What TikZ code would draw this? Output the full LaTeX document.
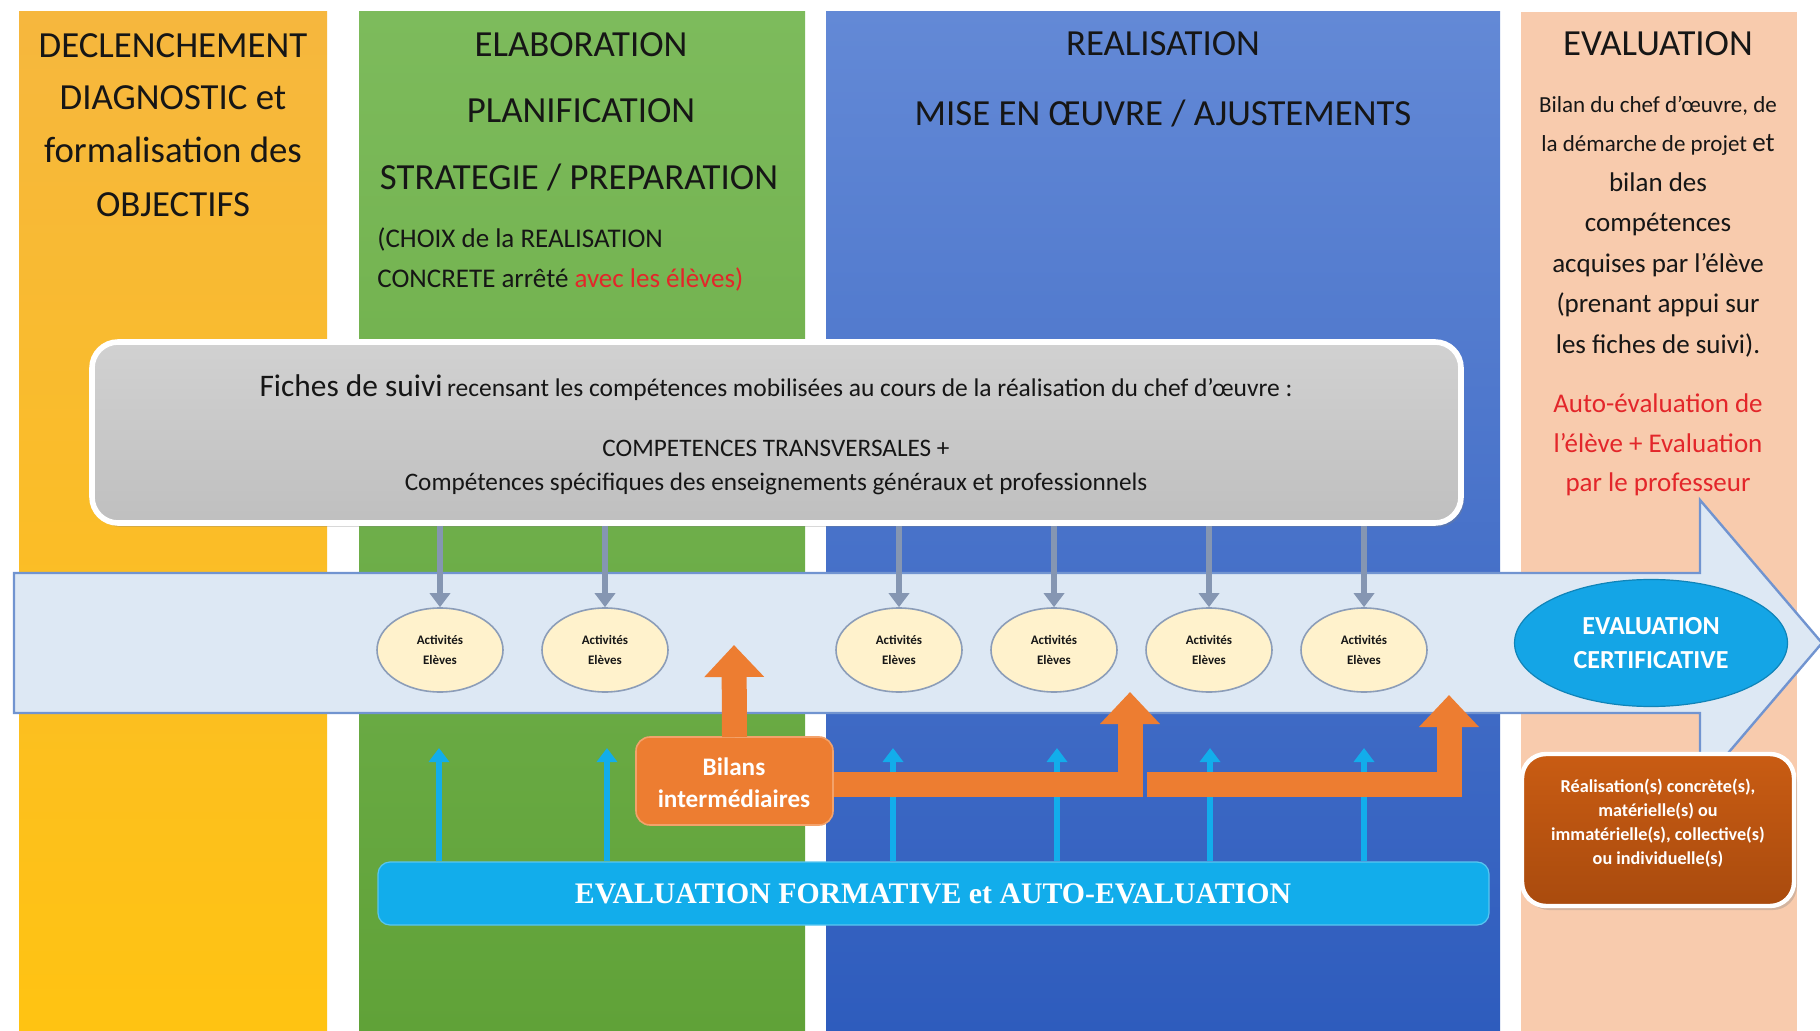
\documentclass[tikz,border=0pt]{standalone}
\usepackage{fontspec}
\setmainfont{Carlito}
\newfontfamily\barfont{Liberation Serif}
\usetikzlibrary{arrows.meta,shapes.geometric,fit,shadows}
\definecolor{ytop}{HTML}{F6B73E}
\definecolor{ybot}{HTML}{FFC312}
\definecolor{gtop}{HTML}{7DBB5C}
\definecolor{gbot}{HTML}{60A238}
\definecolor{btop}{HTML}{6389D6}
\definecolor{bbot}{HTML}{2E5CBD}
\definecolor{peach}{HTML}{F8CBAD}
\definecolor{txt}{HTML}{161616}
\definecolor{redt}{HTML}{E3262A}
\definecolor{arrfill}{HTML}{DDE8F4}
\definecolor{arredge}{HTML}{7194D0}
\definecolor{cream}{HTML}{FFF2CC}
\definecolor{ellline}{HTML}{8C9DB8}
\definecolor{cyanc}{HTML}{12ADEB}
\definecolor{orng}{HTML}{ED7D31}
\definecolor{orngl}{HTML}{F3A26B}
\definecolor{dtop}{HTML}{C95C13}
\definecolor{dbot}{HTML}{A94B0E}
\definecolor{gedge}{HTML}{8596B2}
\definecolor{certc}{HTML}{14A5E6}
\begin{document}
\begin{tikzpicture}[x=0.5pt,y=-0.5pt,
  hd/.style={anchor=base, inner sep=0, text=txt, font=\fontsize{18.4}{22}\selectfont},
  sm/.style={anchor=base, inner sep=0, text=txt, font=\fontsize{13.5}{16}\selectfont},
  xs/.style={anchor=base, inner sep=0, text=txt, font=\fontsize{11.5}{14}\selectfont},
  wt/.style={anchor=base, inner sep=0, text=white, font=\fontsize{#1}{14}\selectfont\bfseries},
  act/.style={ellipse, draw=ellline, line width=0.8pt, fill=cream, minimum width=63pt, minimum height=42pt, inner sep=0, align=center, font=\fontsize{6.5}{10}\selectfont\bfseries, text=txt},
  downarr/.style={draw=gedge, line width=3pt, -{Triangle[length=7pt,width=10pt]}},
  uparr/.style={draw=cyanc, line width=3pt, -{Triangle[length=7pt,width=10pt]}},
  obig/.style={draw=orng, line width=12.5pt, line join=miter, -{Triangle[length=16pt,width=29pt]}},
]
\useasboundingbox (0,0) rectangle (1820,1031);
\fill[white] (0,0) rectangle (1820,1031);
% columns
\shade[top color=ytop, bottom color=ybot] (19,12) rectangle (327,1031);
\shade[top color=gtop, bottom color=gbot] (359,12) rectangle (805,1031);
\shade[top color=btop, bottom color=bbot] (826,12) rectangle (1500,1031);
\fill[peach] (1521,12) rectangle (1797,1031);
% column texts
\node[hd] (y1) at (173,58) {DECLENCHEMENT};
\node[hd] (y2) at (173,110) {DIAGNOSTIC et};
\node[hd] (y3) at (173,163) {formalisation des};
\node[hd] (y4) at (173,217) {OBJECTIFS};
\node[hd] (g1) at (581,57) {ELABORATION};
\node[hd] (g2) at (581,123) {PLANIFICATION};
\node[hd] (g3) at (579,190) {STRATEGIE / PREPARATION};
\node[sm, anchor=base west] (g4) at (377,248) {(CHOIX de la REALISATION};
\node[sm, anchor=base west] (g5) at (377,288) {CONCRETE arrêté \textcolor{redt}{avec les élèves)}};
\node[hd] (b1) at (1163,56) {REALISATION};
\node[hd] (b2) at (1163,126) {MISE EN ŒUVRE / AJUSTEMENTS};
\node[hd] (p0) at (1658,56) {EVALUATION};
\node[xs] (p1) at (1658,113) {Bilan du chef d’œuvre, de};
\node[xs] (p2) at (1658,152) {la démarche de projet {\fontsize{13.5}{16}\selectfont et}};
\node[sm] (p3) at (1658,192) {bilan des};
\node[sm] (p4) at (1658,232) {compétences};
\node[sm] (p5) at (1658,273) {acquises par l’élève};
\node[sm] (p6) at (1658,313) {(prenant appui sur};
\node[sm] (p7) at (1658,354) {les fiches de suivi).};
\node[sm, text=redt] (p8) at (1658,413) {Auto-évaluation de};
\node[sm, text=redt] (p9) at (1658,453) {l’élève + Evaluation};
\node[sm, text=redt] (p10) at (1658,492) {par le professeur};
% grey box
\coordinate (gb1) at (92,342);
\coordinate (gb2) at (1461,523);
\node[fit=(gb1)(gb2), inner sep=0, rounded corners=13pt, draw=white, line width=2.8pt,
  top color=gray!36, bottom color=gray!50,
  drop shadow={opacity=0.3,shadow xshift=1.5pt,shadow yshift=-2pt}] (grey) {};
\node[anchor=base, inner sep=0, text=txt] (f1) at (776,397)
  {{\fontsize{15.7}{18}\selectfont Fiches de suivi} {\fontsize{12.75}{14}\selectfont recensant les compétences mobilisées au cours de la réalisation du chef d’œuvre :}};
\node[anchor=base, inner sep=0, text=txt, font=\fontsize{12.6}{14}\selectfont] (f2) at (776,457) {COMPETENCES TRANSVERSALES +};
\node[anchor=base, inner sep=0, text=txt, font=\fontsize{12.6}{14}\selectfont] (f3) at (776,491) {Compétences spécifiques des enseignements généraux et professionnels};
% big arrow
\draw[fill=arrfill, draw=arredge, line width=1.2pt, line join=miter]
  (14,573) -- (1700,573) -- (1700,500) -- (1822,643) -- (1700,786) -- (1700,713) -- (14,713) -- cycle;
% activities
\foreach \i/\x in {1/440,2/605,3/899,4/1054,5/1209,6/1364}{
  \node[act] (e\i) at (\x,650) {Activités\\Elèves};
  \draw[downarr] (grey.south -| e\i) -- (e\i.north);
}
% formative bar
\coordinate (fb1) at (378,862);
\coordinate (fb2) at (1489,925);
\node[fit=(fb1)(fb2), inner sep=0, rounded corners=6pt, fill=cyanc, draw=cyanc!70!white, line width=0.6pt] (bar) {};
\node[anchor=base, inner sep=0, text=white, font=\barfont\bfseries\fontsize{14.9}{17}\selectfont] (bartxt) at (933,903) {EVALUATION FORMATIVE et AUTO-EVALUATION};
% cyan up arrows
\foreach \i/\x in {1/439,2/607,3/893,4/1057,5/1210,6/1364}{
  \coordinate (u\i) at (\x,748);
  \draw[uparr] (bar.north -| u\i) -- (u\i);
}
% bilans
\coordinate (bl1) at (636,737);
\coordinate (bl2) at (833,825);
\coordinate (ot0) at (734,645);
\coordinate (ot1) at (1130,692);
\coordinate (os2) at (1147,784);
\coordinate (ot2) at (1449,695);
\node[fit=(bl1)(bl2), inner sep=0, rounded corners=7pt, fill=orng, draw=orngl, line width=0.8pt] (bil) {};
\draw[obig] (bil.north |- bl1) -- (ot0);
\draw[obig] (bil.east |- os2) -| (ot1);
\draw[obig] (os2) -| (ot2);
\node[wt=12.6] (bt1) at (734,775) {Bilans};
\node[wt=12.6] (bt2) at (734,807) {intermédiaires};
% realisation box
\coordinate (rb1) at (1522,754);
\coordinate (rb2) at (1794,906);
\node[fit=(rb1)(rb2), inner sep=0, rounded corners=12pt, top color=dtop, bottom color=dbot, draw=white, line width=2.2pt,
  drop shadow={opacity=0.3,shadow xshift=1.5pt,shadow yshift=-2pt}] (real) {};
\node[wt=9.1] (r1) at (1658,792) {Réalisation(s) concrète(s),};
\node[wt=9.1] (r2) at (1658,816) {matérielle(s) ou};
\node[wt=9.1] (r3) at (1658,840) {immatérielle(s), collective(s)};
\node[wt=9.1] (r4) at (1658,864) {ou individuelle(s)};
% certificative
\node[ellipse, fill=certc, draw=certc!80!black, line width=0.6pt, minimum width=136.5pt, minimum height=63.5pt, inner sep=0,
  align=center, text=white, font=\fontsize{13}{17}\selectfont\bfseries] (cert) at (1651,643) {EVALUATION\\CERTIFICATIVE};
\end{tikzpicture}
\end{document}
